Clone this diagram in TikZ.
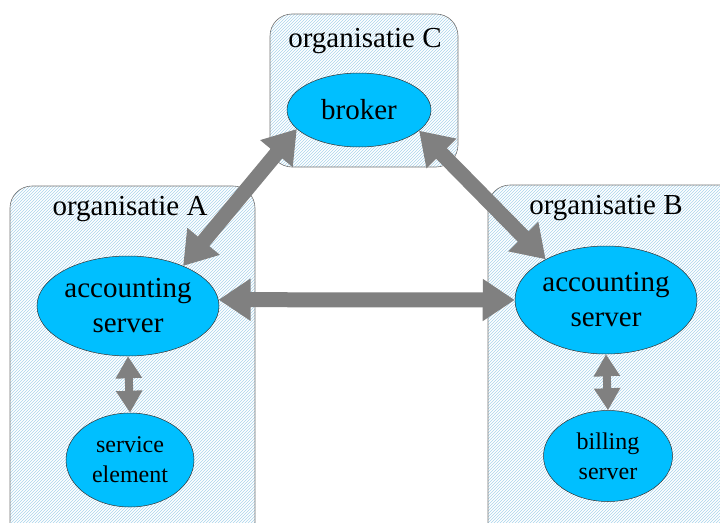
\documentclass[tikz,border=0pt]{standalone}
\usepackage{fontspec}
\newfontfamily\timesfont{LiberationSerif-Regular.ttf}
\usetikzlibrary{shapes.geometric,arrows.meta,patterns}
\definecolor{skyfill}{HTML}{00BFFF}
\definecolor{hatch}{RGB}{170,212,235}
\definecolor{arrowgray}{HTML}{808080}
\begin{document}
\begin{tikzpicture}[x=1pt,y=-1pt,
  orgbox/.style={draw=black!55, line width=0.6pt, rounded corners=22pt,
    pattern=north east lines, pattern color=hatch},
  orglabel/.style={font=\timesfont\fontsize{29}{34}\selectfont, anchor=base, inner sep=0pt},
  ell/.style={ellipse, draw=black!80, line width=0.5pt, fill=skyfill, align=center, inner sep=0pt},
  bigell/.style={ell, font=\timesfont\fontsize{29}{35}\selectfont},
  smallell/.style={ell, font=\timesfont\fontsize{24}{30}\selectfont},
  bigarrow/.style={draw=arrowgray, line width=15pt,
    {Triangle[length=32pt,width=40pt]}-{Triangle[length=32pt,width=40pt]}},
  smallarrow/.style={draw=arrowgray, line width=8pt,
    {Triangle[length=22pt,width=25pt]}-{Triangle[length=22pt,width=25pt]}}
]
\useasboundingbox (0,0) rectangle (720,522);
\clip (0,0) rectangle (720,522);
\fill[white] (0,0) rectangle (720,522);

% organisation boxes
\path[orgbox] (10,186) rectangle (255,545);
\path[orgbox] (270,14) rectangle (458,167);
\path[orgbox] (488,185) rectangle (745,545);

\node[orglabel] (labA) at (130,215) {organisatie A};
\node[orglabel] (labC) at (365,47) {organisatie C};
\node[orglabel] (labB) at (606,214) {organisatie B};

% ellipses
\node[bigell, minimum width=144pt, minimum height=74pt] (brk) at (359,110) {broker};
\node[bigell, minimum width=182pt, minimum height=100pt] (asA) at (128,306) {accounting\\server};
\node[smallell, minimum width=128pt, minimum height=94pt] (seA) at (130,460) {service\\element};
\node[bigell, minimum width=182pt, minimum height=108pt] (asB) at (606,300) {accounting\\server};
\node[smallell, minimum width=129pt, minimum height=91pt] (bsB) at (608,456) {billing\\server};

% connectors
\draw[bigarrow] (brk.197) -- (asA.36);
\draw[bigarrow] (brk.341) -- (asB.146);
\draw[bigarrow] (asA.4) -- (asB.west);
\draw[smallarrow] (asA.south) -- (seA.north);
\draw[smallarrow] (asB.south) -- (bsB.north);
\end{tikzpicture}
\end{document}
